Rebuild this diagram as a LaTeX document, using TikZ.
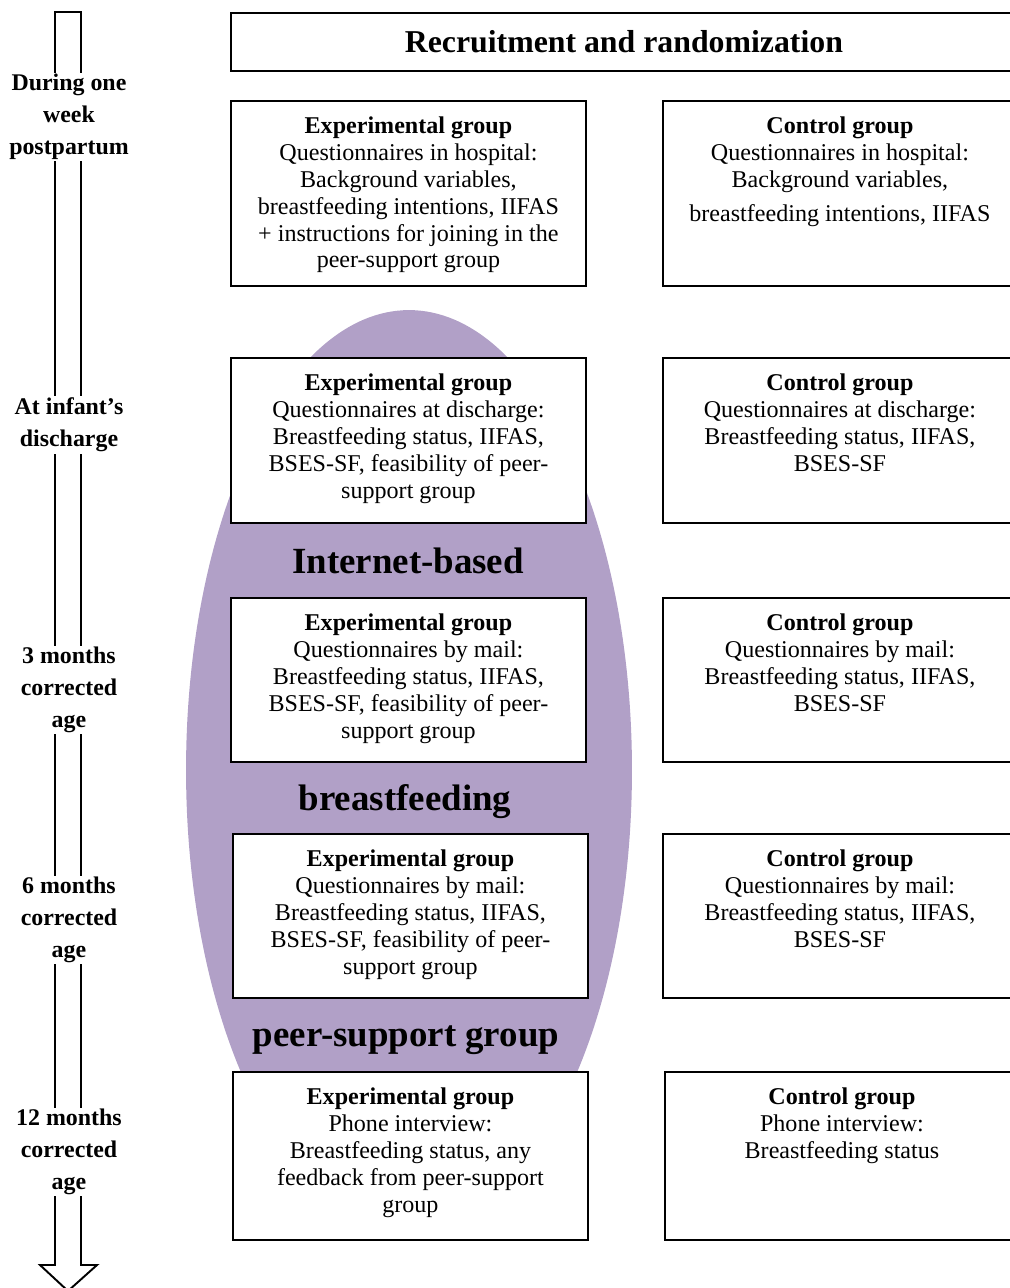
\documentclass[tikz,border=0pt]{standalone}
\usepackage{fontspec}
\setmainfont{Liberation Serif}
\usetikzlibrary{positioning}
\definecolor{lavender}{HTML}{B1A0C7}

\tikzset{
  stagebox/.style={draw, line width=1.1pt, fill=white, anchor=north west, inner sep=0pt},
  boxtext/.style={anchor=north, align=center, inner sep=0pt,
                  font=\fontsize{13.7}{15.3}\selectfont},
  timelbl/.style={fill=white, align=center, inner sep=1pt,
                  font=\fontsize{13.6}{18.1}\selectfont\bfseries},
  bigword/.style={inner sep=0pt, font=\fontsize{21}{24}\selectfont\bfseries},
}

\begin{document}
\begin{tikzpicture}[x=0.02cm, y=-0.02cm]
 \clip (0,0) rectangle (1010,1288);

 % time arrow on the left
 \draw[line width=1.1pt, fill=white]
   (55,1265) -- (55,12) -- (81,12) -- (81,1265) -- (97,1265) -- (68,1291) -- (40,1265) -- cycle;

 % ellipse behind the experimental column
 \fill[lavender] (409,770) ellipse [x radius=4.46cm, y radius=9.2cm];

 % boxes
 \node[stagebox, minimum width=15.72cm, minimum height=1.16cm] (recruit) at (230,12) {};
 \node[font=\fontsize{18.1}{20}\selectfont\bfseries] (title) at (recruit.center) {Recruitment and randomization};
 \foreach \r/\ex/\cx/\y/\h in {1/230/662/100/185, 2/230/662/357/165, 3/230/662/597/164,
                               4/232/662/833/164, 5/232/664/1071/168}{
   \node[stagebox, minimum width=7.1cm, minimum height={\h*0.02cm}] (exp\r) at (\ex,\y) {};
   \node[stagebox, minimum width=7.08cm, minimum height={\h*0.02cm}] (ctl\r) at (\cx,\y) {};
 }

 % texts in the boxes
 \node[boxtext, below=0.33cm of exp1.north] (exptxt1)
   {\textbf{Experimental group}\\ Questionnaires in hospital:\\ Background variables,\\
    breastfeeding intentions, IIFAS\\ + instructions for joining in the\\ peer-support group};
 \node[boxtext, below=0.33cm of ctl1.north] (ctltxt1)
   {\textbf{Control group}\\ Questionnaires in hospital:\\ Background variables,\\[4pt]
    breastfeeding intentions, IIFAS};
 \node[boxtext, below=0.33cm of exp2.north] (exptxt2)
   {\textbf{Experimental group}\\ Questionnaires at discharge:\\ Breastfeeding status, IIFAS,\\
    BSES-SF, feasibility of peer-\\ support group};
 \node[boxtext, below=0.33cm of ctl2.north] (ctltxt2)
   {\textbf{Control group}\\ Questionnaires at discharge:\\ Breastfeeding status, IIFAS,\\ BSES-SF};
 \node[boxtext, below=0.33cm of exp3.north] (exptxt3)
   {\textbf{Experimental group}\\ Questionnaires by mail:\\ Breastfeeding status, IIFAS,\\
    BSES-SF, feasibility of peer-\\ support group};
 \node[boxtext, below=0.33cm of ctl3.north] (ctltxt3)
   {\textbf{Control group}\\ Questionnaires by mail:\\ Breastfeeding status, IIFAS,\\ BSES-SF};
 \node[boxtext, below=0.33cm of exp4.north] (exptxt4)
   {\textbf{Experimental group}\\ Questionnaires by mail:\\ Breastfeeding status, IIFAS,\\
    BSES-SF, feasibility of peer-\\ support group};
 \node[boxtext, below=0.33cm of ctl4.north] (ctltxt4)
   {\textbf{Control group}\\ Questionnaires by mail:\\ Breastfeeding status, IIFAS,\\ BSES-SF};
 \node[boxtext, below=0.33cm of exp5.north] (exptxt5)
   {\textbf{Experimental group}\\ Phone interview:\\ Breastfeeding status, any\\
    feedback from peer-support\\ group};
 \node[boxtext, below=0.33cm of ctl5.north] (ctltxt5)
   {\textbf{Control group}\\ Phone interview:\\ Breastfeeding status};

 % words on the ellipse
 \node[bigword] (word1) at (408,561) {Internet-based};
 \node[bigword] (word2) at (405,802) {breastfeeding};
 \node[bigword] (word3) at (406,1040) {peer-support group};

 % time points
 \node[timelbl] (time1) at (69,117) {During one\\ week\\ postpartum};
 \node[timelbl] (time2) at (69,425) {At infant's\\ discharge};
 \node[timelbl] (time3) at (69,690) {3 months\\ corrected\\ age};
 \node[timelbl] (time4) at (69,920) {6 months\\ corrected\\ age};
 \node[timelbl] (time5) at (69,1152) {12 months\\ corrected\\ age};
\end{tikzpicture}
\end{document}
